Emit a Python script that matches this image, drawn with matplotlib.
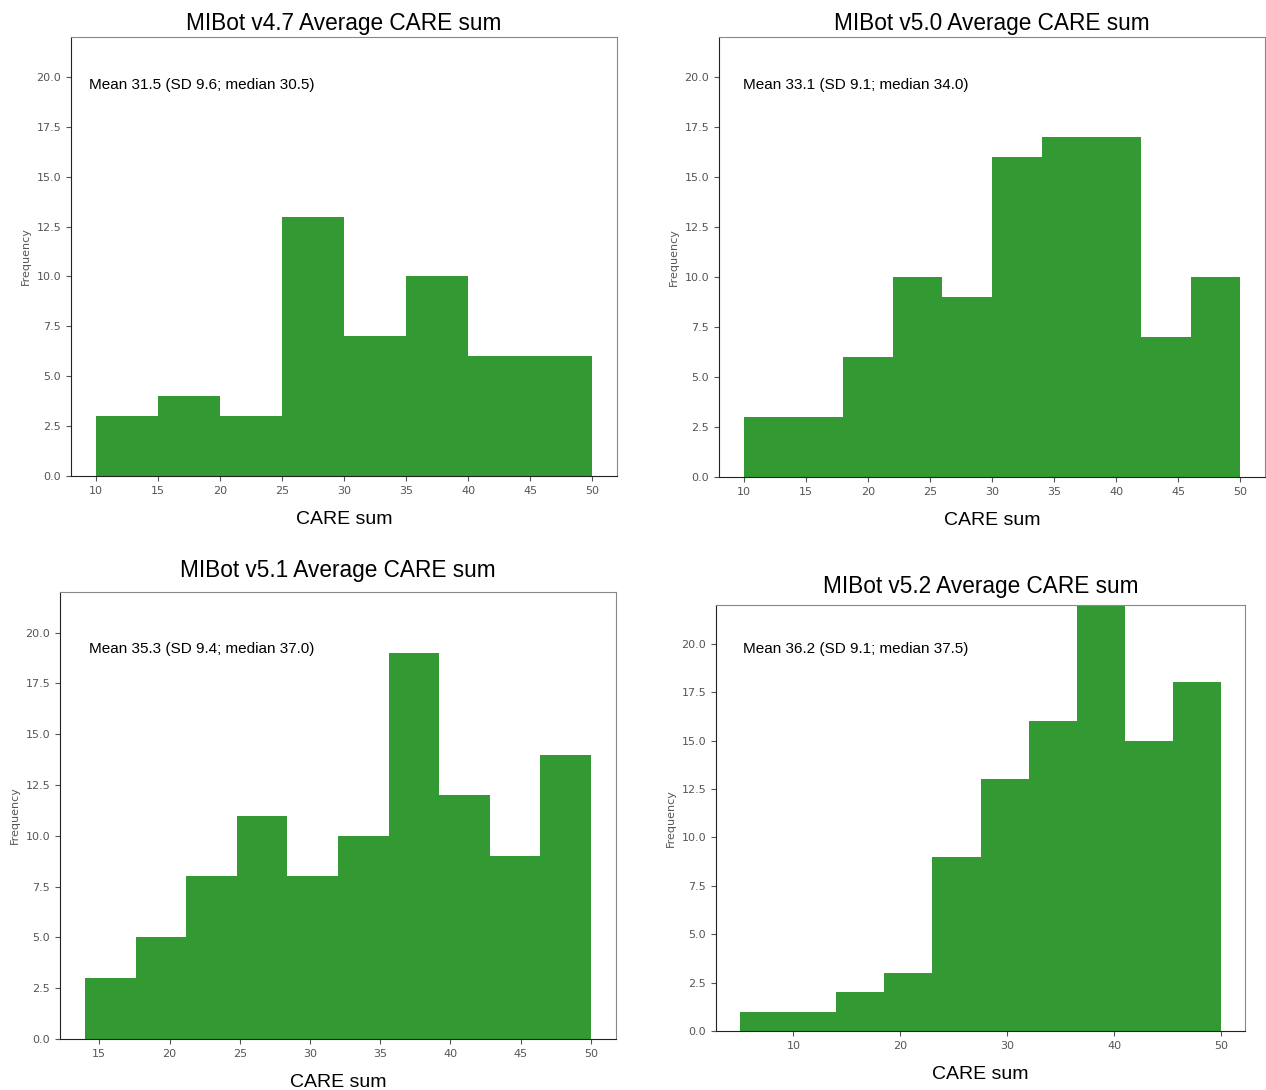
import matplotlib
matplotlib.use('Agg')
import matplotlib.pyplot as plt
import numpy as np

# histogram counts, with bin range and bin count
titles = ['MIBot v4.7 Average CARE sum', 'MIBot v5.0 Average CARE sum',
          'MIBot v5.1 Average CARE sum', 'MIBot v5.2 Average CARE sum']
notes = ['Mean 31.5 (SD 9.6; median 30.5)', 'Mean 33.1 (SD 9.1; median 34.0)',
         'Mean 35.3 (SD 9.4; median 37.0)', 'Mean 36.2 (SD 9.1; median 37.5)']
counts_v47 = [3, 4, 3, 13, 7, 10, 6, 6]
counts_v50 = [3, 3, 6, 10, 9, 16, 17, 17, 7, 10]
counts_v51 = [3, 5, 8, 11, 8, 10, 19, 12, 9, 14]
counts_v52 = [1, 1, 2, 3, 9, 13, 16, 24, 15, 18]
ranges = [(10, 50), (10, 50), (14, 50), (5, 50)]
xticks_v52 = [10, 20, 30, 40, 50]

all_counts = [counts_v47, counts_v50, counts_v51, counts_v52]

# layout (pixels in a 1266x1090 figure): left, top, right, bottom
W, H = 1266, 1090
boxes = [(71, 37, 617, 476), (719, 37, 1265, 477),
         (60, 592, 616, 1039), (716, 605, 1245, 1031)]
note_pos = [(0.033, 0.89), (0.044, 0.89), (0.052, 0.872), (0.051, 0.896)]
title_pad = [5, 5, 11, 9]

sans = ['Liberation Sans', 'DejaVu Sans']

fig = plt.figure(figsize=(W / 100, H / 100), dpi=100)
for i, counts in enumerate(all_counts):
    l, t, r, b = boxes[i]
    ax = fig.add_axes([l / W, (H - b) / H, (r - l) / W, (b - t) / H])
    lo, hi = ranges[i]
    edges = np.linspace(lo, hi, len(counts) + 1)
    centers = (edges[:-1] + edges[1:]) / 2
    ax.hist(centers, bins=edges, weights=counts, color='green', alpha=0.8)
    ax.set_ylim(0, 22)
    ax.set_xlim(lo - (hi - lo) * 0.05, hi + (hi - lo) * 0.05)
    if i == 3:
        ax.set_xticks(xticks_v52)
    ax.set_title(titles[i], fontsize=16.3, family=sans, pad=title_pad[i])
    ax.set_xlabel('CARE sum', fontsize=14, family=sans, labelpad=11)
    ax.set_ylabel('Frequency', fontsize=8, color='#555')
    ax.text(note_pos[i][0], note_pos[i][1], notes[i], transform=ax.transAxes,
            fontsize=11, family=sans, va='center', ha='left')
    ax.tick_params(labelsize=8, labelcolor='#555', color='#555')
    ax.spines['left'].set_color('#222')
    ax.spines['bottom'].set_color('#222')
    ax.spines['top'].set_color('#888')
    ax.spines['right'].set_color('#888')

fig.savefig('out.png', dpi=100, facecolor='white')
